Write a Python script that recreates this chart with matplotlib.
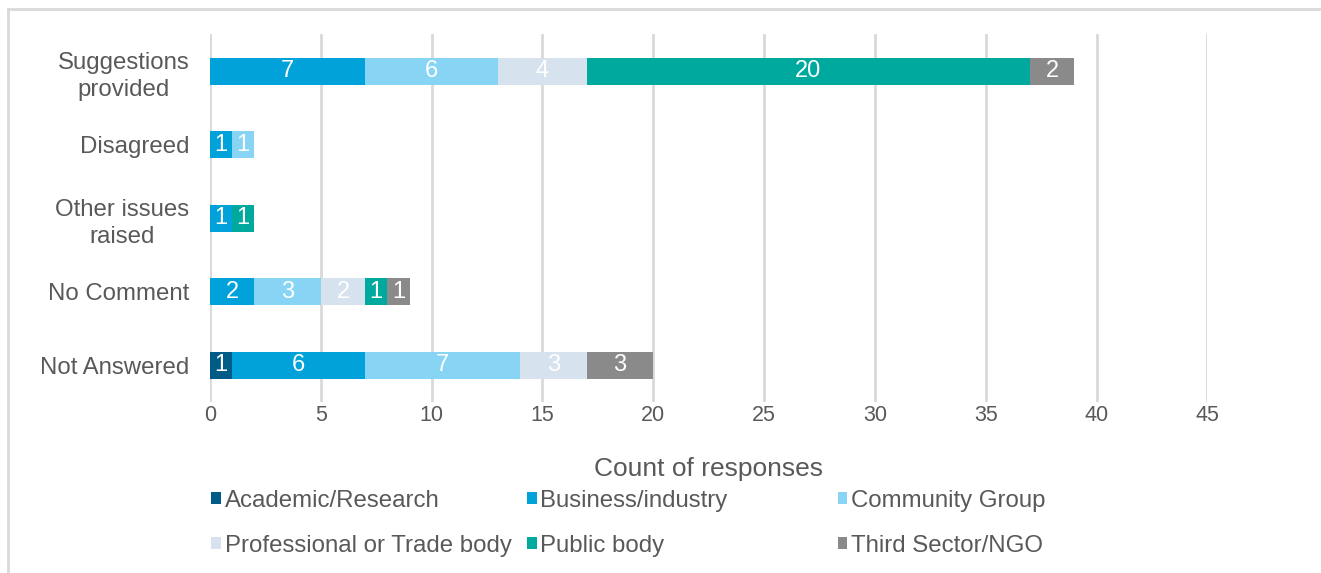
import matplotlib.pyplot as plt
from matplotlib.lines import Line2D
from matplotlib.patches import Patch

plt.rcParams['font.family'] = ['Liberation Sans', 'DejaVu Sans']

# 数据
categories = ['Suggestions\nprovided', 'Disagreed', 'Other issues\nraised', 'No Comment', 'Not Answered']
groups = ['Academic/Research', 'Business/industry', 'Community Group',
          'Professional or Trade body', 'Public body', 'Third Sector/NGO']
academic = [0, 0, 0, 0, 1]
business = [7, 1, 1, 2, 6]
community = [6, 1, 0, 3, 7]
professional = [4, 0, 0, 2, 3]
public = [20, 0, 1, 1, 0]
third = [2, 0, 0, 1, 3]
series = [academic, business, community, professional, public, third]
colors = ['#005b87', '#00a2d9', '#87d4f4', '#d6e2ed', '#00a99d', '#8a8a8b']
x_ticks = [0, 5, 10, 15, 20, 25, 30, 35, 40, 45]

txt = '#595959'

fig = plt.figure(figsize=(13.21, 5.73), dpi=100)
ax = fig.add_axes([0.159, 0.298, 0.755, 0.642])

ypos = list(range(len(categories)))
left = [0] * len(categories)
for vals, col in zip(series, colors):
    bars = ax.barh(ypos, vals, left=left, height=0.37, color=col, zorder=3)
    for b, v in zip(bars, vals):
        if v > 0:
            ax.text(b.get_x() + b.get_width() / 2, b.get_y() + b.get_height() / 2, str(v),
                    ha='center', va='center', color='white', fontsize=17, zorder=4)
    left = [l + v for l, v in zip(left, vals)]

ax.set_ylim(len(categories) - 0.5, -0.5)
ax.set_yticks(ypos)
ax.set_yticklabels(categories, fontsize=17.3, color=txt, linespacing=1.3)
for t in ax.get_yticklabels():
    t.set_multialignment('center')
ax.set_xlim(0, 45)
ax.set_xticks(x_ticks)
ax.set_xticklabels([str(t) for t in x_ticks], fontsize=15.5, color=txt)
ax.tick_params(axis='x', length=0, pad=2)
ax.tick_params(axis='y', length=0, pad=15)
ax.grid(axis='x', color='#d9d9d9', linewidth=2, zorder=0)
for s in ax.spines.values():
    s.set_visible(False)
ax.set_xlabel('Count of responses', fontsize=19, color=txt, labelpad=22)

# 图例，三列分开放
handles = [Patch(facecolor=c, edgecolor='none') for c in colors]
col_x = [0.160, 0.399, 0.634]
for i, x in enumerate(col_x):
    fig.legend([handles[i], handles[i + 3]], [groups[i], groups[i + 3]],
               loc='upper left', bbox_to_anchor=(x, 0.145), frameon=False,
               fontsize=17.3, handlelength=0.4, handleheight=0.4, handletextpad=0.15,
               labelspacing=0.95, labelcolor=txt, borderaxespad=0, borderpad=0)

# 边框
fig.add_artist(Line2D([0.006, 1], [0.984, 0.984], color='#d9d9d9', linewidth=2))
fig.add_artist(Line2D([0.006, 0.006], [0, 0.984], color='#d9d9d9', linewidth=2))

fig.savefig('out.png', dpi=100)
